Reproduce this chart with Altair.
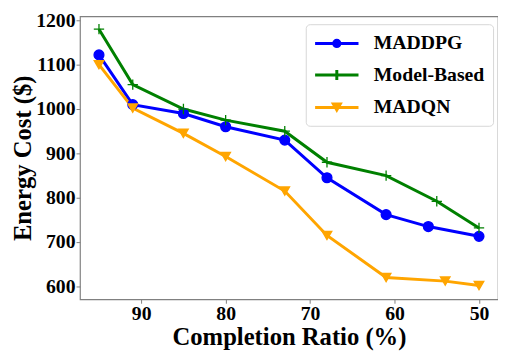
import altair as alt
import pandas as pd

series_names = ["MADDPG", "Model-Based", "MADQN"]
colors = ["#0000ff", "#008000", "#ffa500"]

maddpg_x = [95, 91, 85, 80, 73, 68, 61, 56, 50]
maddpg_y = [1122, 1010, 990, 960, 930, 845, 762, 735, 713]

model_x = [95, 91, 85, 80, 73, 68, 61, 55, 50]
model_y = [1180, 1055, 1000, 975, 950, 880, 850, 792, 732]

madqn_x = [95, 91, 85, 80, 73, 68, 61, 54, 50]
madqn_y = [1100, 1002, 945, 893, 815, 715, 620, 612, 602]

x_ticks = [50, 60, 70, 80, 90]
y_ticks = [600, 700, 800, 900, 1000, 1100, 1200]

rows = []
for name, xs, ys in [("MADDPG", maddpg_x, maddpg_y),
                     ("Model-Based", model_x, model_y),
                     ("MADQN", madqn_x, madqn_y)]:
    for i, (a, b) in enumerate(zip(xs, ys)):
        rows.append({"series": name, "ratio": a, "cost": b, "idx": i})
df = pd.DataFrame(rows)

FONT = "Liberation Serif"

axis_style = dict(labelFont=FONT, labelFontWeight="bold", labelFontSize=20, labelColor="black",
                  titleFont=FONT, titleFontWeight="bold", titleFontSize=25, titleColor="black",
                  tickColor="#808080", tickSize=4, grid=False, domain=False)

x_enc = alt.X("ratio:Q",
              scale=alt.Scale(domain=[47.75, 97.25], reverse=True, nice=False, zero=False),
              axis=alt.Axis(values=x_ticks, title="Completion Ratio (%)", format="d",
                            labelPadding=1, titlePadding=1, **axis_style))
y_enc = alt.Y("cost:Q",
              scale=alt.Scale(domain=[571, 1209], nice=False, zero=False),
              axis=alt.Axis(values=y_ticks, title="Energy Cost ($)", format="d",
                            labelPadding=1, titlePadding=0, **axis_style))

shape_expr = ("datum.value === 'MADDPG' ? 'M-1,0L3.4,0M1.52,0A0.32,0.32,0,1,1,0.88,0A0.32,0.32,0,1,1,1.52,0Z' : "
              "datum.value === 'Model-Based' ? 'M-1,0L3.4,0M1.2,-0.5L1.2,0.5' : "
              "'M-1,0L3.4,0M0.85,-0.35L1.55,-0.35L1.2,0.25Z'")
fill_expr = ("datum.value === 'MADDPG' ? '#0000ff' : "
             "datum.value === 'Model-Based' ? 'transparent' : '#ffa500'")
stroke_expr = ("datum.value === 'MADDPG' ? '#0000ff' : "
               "datum.value === 'Model-Based' ? '#008000' : '#ffa500'")

legend = alt.Legend(
    title=None, orient="none", legendX=229, legendY=8,
    labelFont=FONT, labelFontWeight="bold", labelFontSize=20, labelColor="black",
    symbolSize=400, labelOffset=38, symbolStrokeWidth=3,
    rowPadding=10, padding=8,
    fillColor="white", strokeColor="#d6d6d6", cornerRadius=4,
    symbolType=alt.ExprRef(expr=shape_expr),
    symbolFillColor=alt.ExprRef(expr=fill_expr),
    symbolStrokeColor=alt.ExprRef(expr=stroke_expr),
    symbolOpacity=1,
)

lines = alt.Chart(df).mark_line(strokeWidth=3).encode(
    x=x_enc, y=y_enc,
    color=alt.Color("series:N", scale=alt.Scale(domain=series_names, range=colors),
                    sort=series_names, legend=legend),
    order="idx:Q",
)

marker_shapes = ["circle", "M-1,0L1,0M0,-1L0,1", "triangle-down"]
marker_fill = ["#0000ff", "transparent", "#ffa500"]
marker_size = [100, 110, 95]

point_layers = []
for name, col, shp, fil, sz in zip(series_names, colors, marker_shapes, marker_fill, marker_size):
    point_layers.append(
        alt.Chart(df).transform_filter(alt.datum.series == name).mark_point(
            opacity=1, strokeWidth=1.3, shape=shp, fill=fil, stroke=col, size=sz
        ).encode(x=x_enc, y=y_enc)
    )

chart = alt.layer(lines, *point_layers).properties(
    width=424, height=287,
    padding={"left": 3, "top": 0, "right": 0, "bottom": 0},
).configure_view(
    stroke="#808080", strokeWidth=1.2
)

chart.save("out.html", embed_options={"renderer": "svg", "actions": False})
